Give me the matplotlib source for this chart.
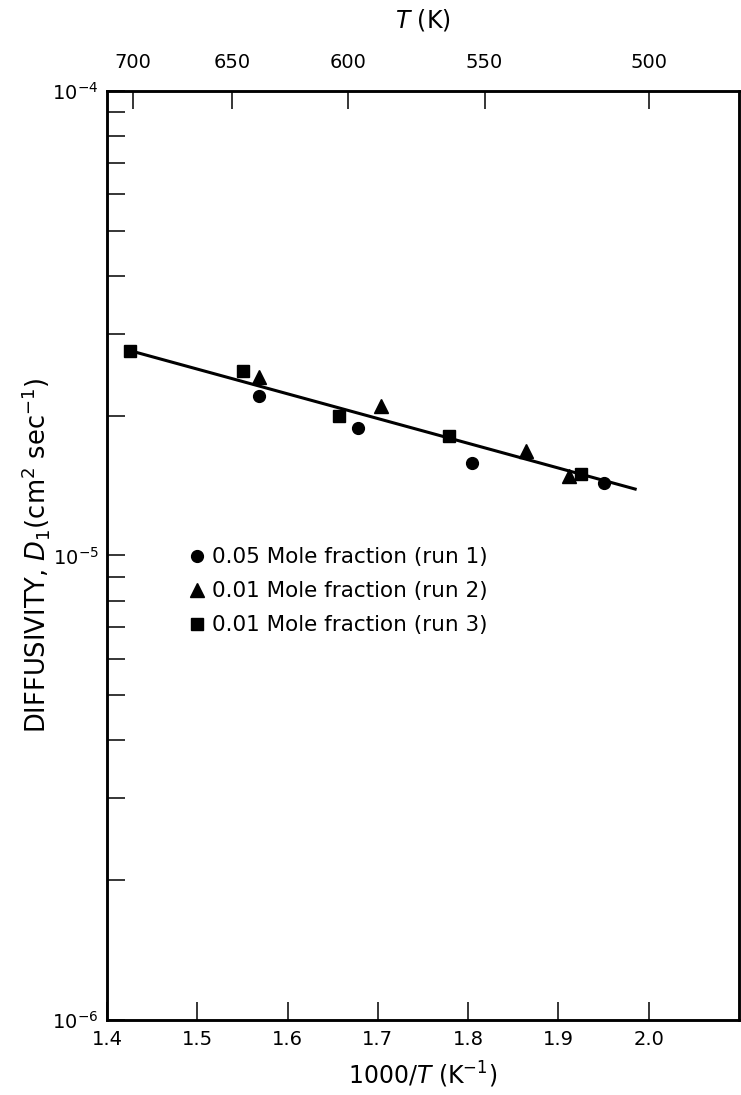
import matplotlib
matplotlib.use("Agg")
import matplotlib.pyplot as plt
from matplotlib.ticker import LogLocator, NullFormatter, FixedLocator

# data: 1000/T (K^-1) and diffusivity (cm^2/s)
run1_x = [1.568, 1.678, 1.804, 1.951]
run1_d = [2.20e-5, 1.88e-5, 1.58e-5, 1.43e-5]

run2_x = [1.568, 1.703, 1.864, 1.912]
run2_d = [2.42e-5, 2.10e-5, 1.68e-5, 1.48e-5]

run3_x = [1.425, 1.551, 1.657, 1.779, 1.925]
run3_d = [2.75e-5, 2.50e-5, 2.00e-5, 1.81e-5, 1.50e-5]

fit_x = [1.4286, 1.985]
fit_d = [2.75e-5, 1.39e-5]

labels = ["0.05 Mole fraction (run 1)",
          "0.01 Mole fraction (run 2)",
          "0.01 Mole fraction (run 3)"]

bottom_ticks = [1.4, 1.5, 1.6, 1.7, 1.8, 1.9, 2.0]
top_temps = [700, 650, 600, 550, 500]

plt.rcParams['font.family'] = ['DejaVu Sans']
plt.rcParams['mathtext.fontset'] = 'dejavusans'

fig = plt.figure(figsize=(7.41, 10.95), dpi=100)
ax = fig.add_axes([0.1444, 0.0685, 0.9973 - 0.1444, 0.9169 - 0.0685])

ax.plot(fit_x, fit_d, color='black', lw=2.2, zorder=2)
ax.plot(run1_x, run1_d, 'o', color='black', ms=8.5, ls='none', label=labels[0], zorder=3)
ax.plot(run2_x, run2_d, '^', color='black', ms=9.5, ls='none', label=labels[1], zorder=3)
ax.plot(run3_x, run3_d, 's', color='black', ms=8.5, ls='none', label=labels[2], zorder=3)

ax.set_yscale('log')
ax.set_ylim(1e-6, 1e-4)
ax.set_xlim(1.4, 2.1)

ax.xaxis.set_major_locator(FixedLocator(bottom_ticks))
ax.set_xticklabels([f"{v:.1f}" for v in bottom_ticks])
ax.yaxis.set_major_locator(LogLocator(base=10, numticks=5))
ax.yaxis.set_minor_locator(LogLocator(base=10, subs=range(2, 10), numticks=20))
ax.yaxis.set_minor_formatter(NullFormatter())

ax.tick_params(axis='both', which='both', direction='in', width=1.1, labelsize=14)
ax.tick_params(axis='x', which='major', length=13, pad=7, top=False)
ax.tick_params(axis='y', which='major', length=13, pad=6, right=False)
ax.tick_params(axis='y', which='minor', length=13, right=False)
for s in ax.spines.values():
    s.set_linewidth(1.8)

ax.set_xlabel(r"1000/$T$ (K$^{-1}$)", fontsize=17, labelpad=8)
ax.set_ylabel(r"DIFFUSIVITY, $D_\mathregular{1}$(cm$^2$ sec$^{-1}$)", fontsize=18.5, labelpad=0)

# top axis in temperature
ax2 = ax.twiny()
ax2.set_xlim(ax.get_xlim())
ax2.set_xticks([1000.0 / t for t in top_temps])
ax2.set_xticklabels([str(t) for t in top_temps])
ax2.tick_params(axis='x', direction='in', length=13, width=1.1, labelsize=14, pad=14)
ax2.set_xlabel(r"$T$ (K)", fontsize=17, labelpad=18)
for s in ax2.spines.values():
    s.set_linewidth(1.8)

ax.legend(loc='upper left', bbox_to_anchor=(0.115, 0.518), frameon=False,
          fontsize=15.5, handlelength=0.8, handletextpad=0.3, labelspacing=0.65,
          borderaxespad=0, numpoints=1)

fig.savefig("out.png", dpi=100)
